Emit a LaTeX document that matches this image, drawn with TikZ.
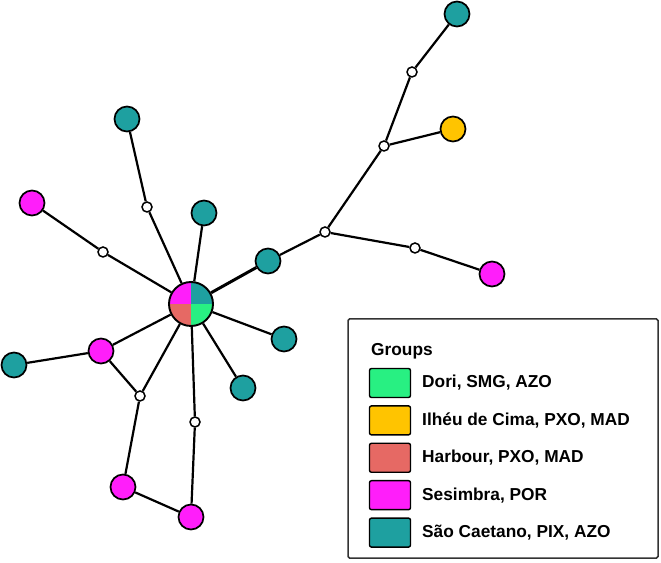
\documentclass[tikz,border=0pt]{standalone}
\usepackage{fontspec}
\setmainfont{Liberation Sans}
\usetikzlibrary{positioning}
\definecolor{doriC}{RGB}{40,240,130}
\definecolor{ilheuC}{RGB}{255,196,0}
\definecolor{harbC}{RGB}{230,105,100}
\definecolor{sesiC}{RGB}{255,30,250}
\definecolor{saoC}{RGB}{30,160,160}

\begin{document}
\begin{tikzpicture}[x=1pt, y=1pt,
	every node/.style={font=\fontsize{17.3}{20}\selectfont\bfseries},
	edge/.style={line width=2.2pt},
	hap/.style={circle, draw, line width=1.7pt, minimum size=25pt, inner sep=0pt},
	mv/.style={circle, draw, fill=white, line width=1.5pt, minimum size=10pt, inner sep=0pt},
	hubnode/.style={circle, draw, line width=1.9pt, minimum size=44pt, inner sep=0pt,
		path picture={
			\fill[sesiC] (path picture bounding box.center) rectangle (path picture bounding box.north west);
			\fill[saoC] (path picture bounding box.center) rectangle (path picture bounding box.north east);
			\fill[harbC] (path picture bounding box.center) rectangle (path picture bounding box.south west);
			\fill[doriC] (path picture bounding box.center) rectangle (path picture bounding box.south east);
		}},
	swatch/.style={draw, line width=1.4pt, rounded corners=2pt, minimum width=41pt, minimum height=29pt, inner sep=0pt},
	legtext/.style={anchor=west, inner sep=0pt}]
	\useasboundingbox (0,0) rectangle (661,562);
	% haplotypes
	\node[hubnode] (hub) at (191,258) {};
	\node[hap, fill=saoC] (saoTop) at (457,548) {};
	\node[hap, fill=ilheuC] (ilheu) at (453,433) {};
	\node[hap, fill=sesiC] (sesRight) at (492,288) {};
	\node[hap, fill=saoC] (saoMid) at (268,301) {};
	\node[hap, fill=saoC] (saoUp) at (127,443) {};
	\node[hap, fill=sesiC] (sesUp) at (32,359) {};
	\node[hap, fill=saoC] (saoNear) at (204,349) {};
	\node[hap, fill=saoC] (saoE) at (284,223) {};
	\node[hap, fill=saoC] (saoSE) at (243,174) {};
	\node[hap, fill=sesiC] (sesLeft) at (101,211) {};
	\node[hap, fill=saoC] (saoLeft) at (14,197) {};
	\node[hap, fill=sesiC] (sesLow) at (123,75) {};
	\node[hap, fill=sesiC] (sesBot) at (191,45) {};
	% median vectors
	\node[mv] (mvA) at (412,490) {};
	\node[mv] (mvB) at (384,416) {};
	\node[mv] (mvC) at (325,330) {};
	\node[mv] (mvD) at (415,314) {};
	\node[mv] (mvE) at (147,355) {};
	\node[mv] (mvF) at (103,310) {};
	\node[mv] (mvG) at (140,166) {};
	\node[mv] (mvH) at (195,140) {};
	% links
	\draw[edge, line width=3pt] (hub) -- (saoMid);
	\draw[edge] (saoMid) -- (mvC);
	\draw[edge] (mvC) -- (mvB);
	\draw[edge] (mvB) -- (mvA);
	\draw[edge] (mvA) -- (saoTop);
	\draw[edge] (mvB) -- (ilheu);
	\draw[edge] (mvC) -- (mvD);
	\draw[edge] (mvD) -- (sesRight);
	\draw[edge] (hub) -- (mvE);
	\draw[edge] (mvE) -- (saoUp);
	\draw[edge] (hub) -- (mvF);
	\draw[edge] (mvF) -- (sesUp);
	\draw[edge] (hub) -- (saoNear);
	\draw[edge] (hub) -- (saoE);
	\draw[edge] (hub) -- (saoSE);
	\draw[edge] (hub) -- (sesLeft);
	\draw[edge] (sesLeft) -- (saoLeft);
	\draw[edge] (sesLeft) -- (mvG);
	\draw[edge] (hub) -- (mvG);
	\draw[edge] (mvG) -- (sesLow);
	\draw[edge] (sesLow) -- (sesBot);
	\draw[edge] (sesBot) -- (mvH);
	\draw[edge] (mvH) -- (hub);
	% legend
	\node[draw=black!80, line width=1.5pt, rounded corners=1.5pt, minimum width=310pt, minimum height=239pt, inner sep=0pt] (legend) at (503,123.5) {};
	\node[legtext] (groups) at (371,211) {Groups};
	\node[swatch, fill=doriC] (swDori) at (390,179) {};
	\node[swatch, fill=ilheuC, below=7pt of swDori] (swIlheu) {};
	\node[swatch, fill=harbC, below=7pt of swIlheu] (swHarb) {};
	\node[swatch, fill=sesiC, below=7pt of swHarb] (swSesi) {};
	\node[swatch, fill=saoC, below=7pt of swSesi] (swSao) {};
	\node[legtext] at ([xshift=32pt]swDori.center) {Dori, SMG, AZO};
	\node[legtext] at ([xshift=32pt]swIlheu.center) {Ilhéu de Cima, PXO, MAD};
	\node[legtext] at ([xshift=32pt]swHarb.center) {Harbour, PXO, MAD};
	\node[legtext] at ([xshift=32pt]swSesi.center) {Sesimbra, POR};
	\node[legtext] at ([xshift=32pt]swSao.center) {São Caetano, PIX, AZO};
\end{tikzpicture}
\end{document}
